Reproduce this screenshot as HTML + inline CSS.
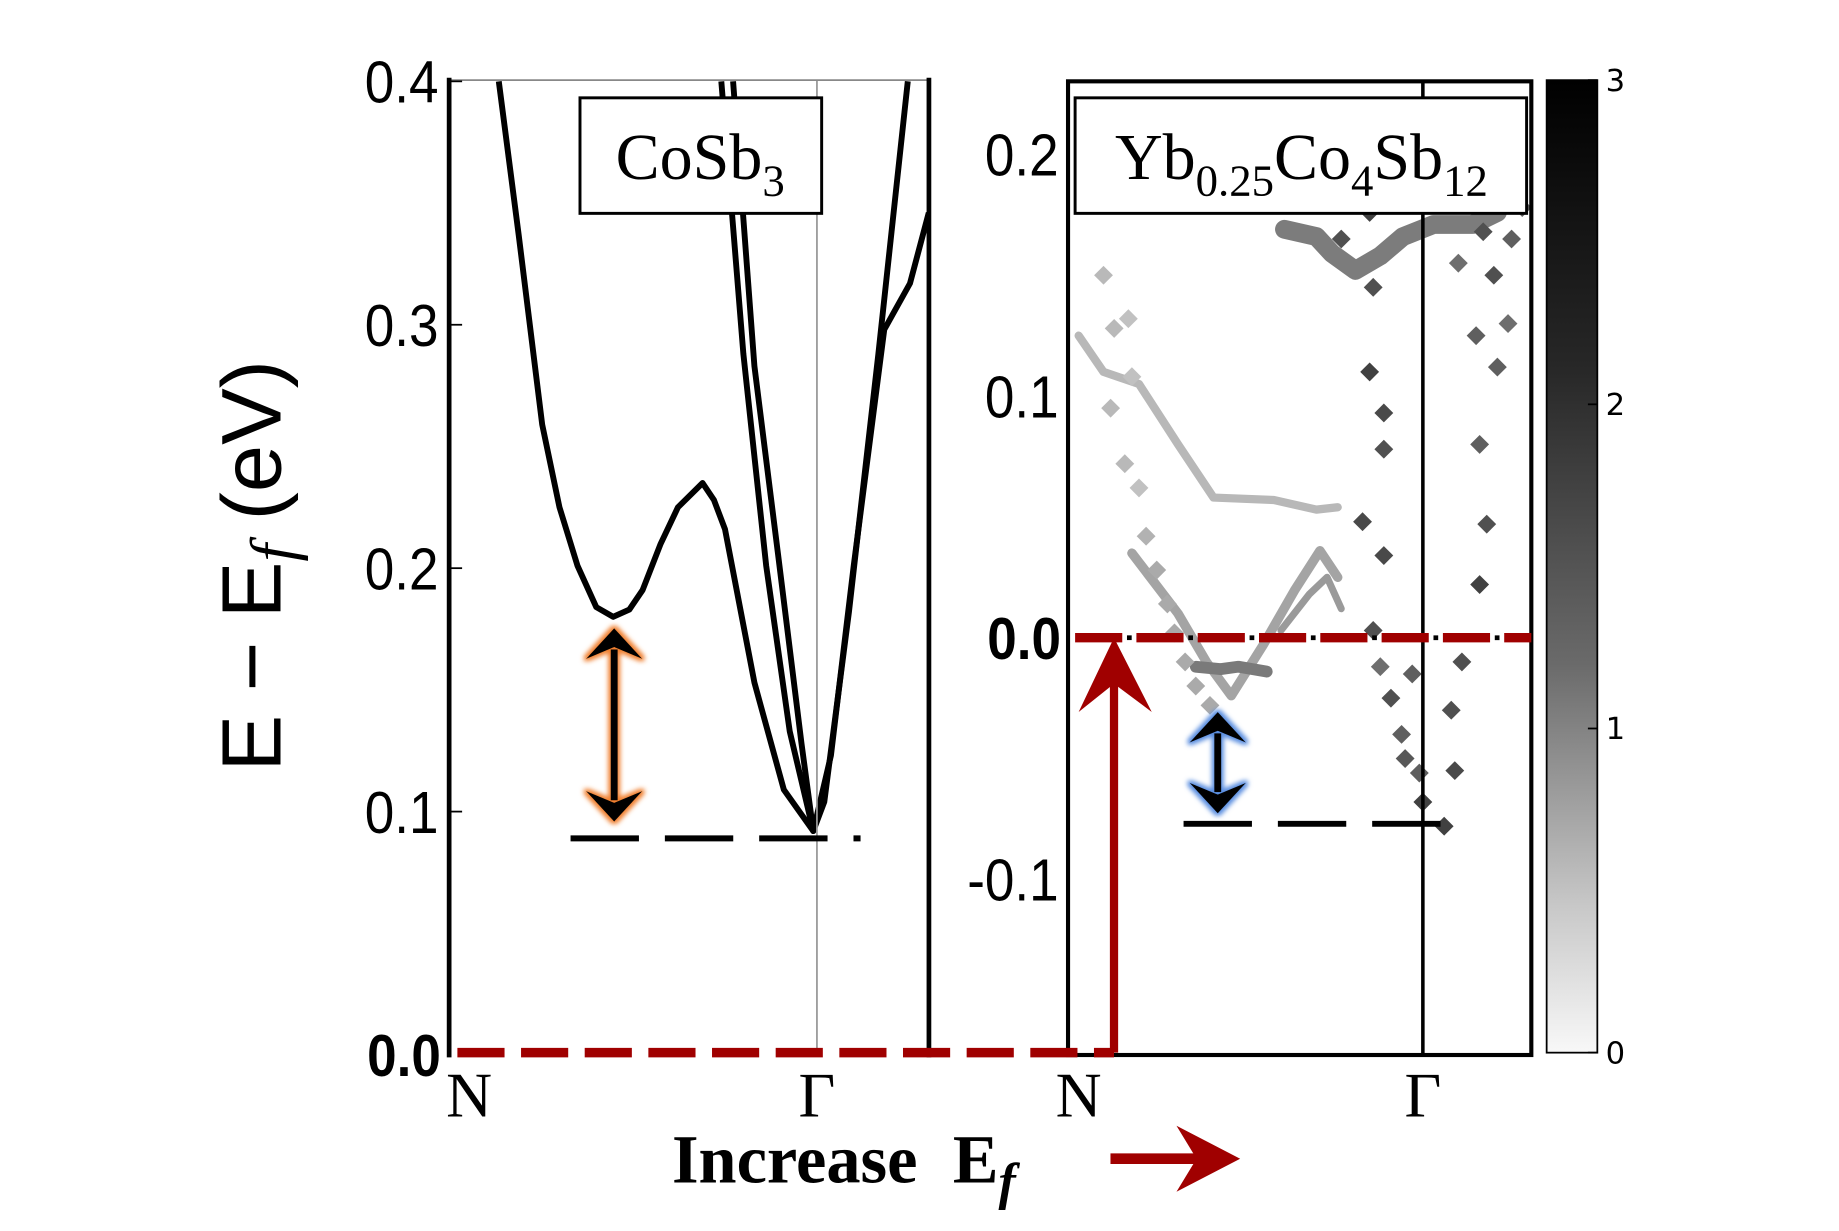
<!DOCTYPE html>
<html><head><meta charset="utf-8"><style>
html,body{margin:0;padding:0;background:#fff;}
svg{display:block;}
</style></head><body>
<svg id="fig" width="1839" height="1231" viewBox="0 0 1560 1044.3" preserveAspectRatio="none" xmlns="http://www.w3.org/2000/svg">
<defs>
<linearGradient id="cbg" x1="0" y1="1" x2="0" y2="0">
<stop offset="0" stop-color="#f8f8f8"/><stop offset="0.15" stop-color="#c8c8c8"/><stop offset="0.4" stop-color="#6a6a6a"/><stop offset="0.7" stop-color="#282828"/><stop offset="1" stop-color="#000"/>
</linearGradient>
<filter id="glowO" x="-50%" y="-50%" width="200%" height="200%"><feMorphology operator="dilate" radius="2" in="SourceAlpha" result="d"/><feGaussianBlur in="d" stdDeviation="2" result="b"/><feFlood flood-color="#f08030"/><feComposite in2="b" operator="in" result="g"/><feMerge><feMergeNode in="g"/><feMergeNode in="SourceGraphic"/></feMerge></filter>
<filter id="glowB" x="-50%" y="-50%" width="200%" height="200%"><feMorphology operator="dilate" radius="2" in="SourceAlpha" result="d"/><feGaussianBlur in="d" stdDeviation="2" result="b"/><feFlood flood-color="#5a8ee0"/><feComposite in2="b" operator="in" result="g"/><feMerge><feMergeNode in="g"/><feMergeNode in="SourceGraphic"/></feMerge></filter>
</defs>
<g id="heat"></g>
<g id="bands"></g>
<g id="static"></g>
</svg>
<script>
// ---- data ----
const leftTicks = [0.1, 0.2, 0.3, 0.4];
const leftTickLabels = ["0.1", "0.2", "0.3", "0.4"];
const rightTicks = [-0.1, 0.1, 0.2];
const rightTickLabels = ["-0.1", "0.1", "0.2"];
const cbTicks = [0, 1, 2, 3];
const band1K = [0.135,0.189,0.253,0.30,0.349,0.40,0.446,0.49,0.526,0.575,0.622,0.689,0.72,0.75,0.83,0.91,0.99,1.02,1.087,1.167,1.247];
const band1E = [0.40,0.337,0.259,0.225,0.201,0.184,0.180,0.183,0.191,0.210,0.225,0.235,0.228,0.216,0.153,0.109,0.092,0.104,0.182,0.288,0.40];
const band2K = [0.74,0.80,0.862,0.926,0.99,1.038,1.10,1.183,1.253,1.304];
const band2E = [0.40,0.288,0.201,0.133,0.092,0.123,0.201,0.298,0.317,0.346];
const band3K = [0.772,0.83,0.894,0.958,0.99];
const band3E = [0.40,0.283,0.206,0.128,0.092];
const cbmLeft = 0.089;
const cbmRight = -0.077;
const dK = [0.77,0.81,0.85,0.86,0.85,0.89,0.89,0.83,0.89,0.86,0.91,0.94,1.00,1.06,1.09,1.08,1.11,1.16,1.18,1.16,1.21,1.24,1.20,1.17,1.25,1.28,1.23,1.15,1.10,0.88,0.95,0.99,0.97,0.10,0.13,0.17,0.18,0.12,0.16,0.20,0.22,0.25,0.28,0.30,0.33,0.36,0.40];
const dE = [0.165,0.215,0.176,0.145,0.110,0.093,0.078,0.048,0.034,0.003,-0.025,-0.040,-0.068,-0.078,-0.055,-0.030,-0.010,0.022,0.047,0.080,0.112,0.130,0.150,0.168,0.165,0.178,0.190,0.125,0.155,-0.012,-0.050,-0.056,-0.015,0.150,0.128,0.132,0.108,0.095,0.072,0.062,0.042,0.028,0.014,0.002,-0.010,-0.020,-0.028];
const dI = [2.2,2.0,2.4,2.2,2.4,2.3,2.2,2.3,2.3,2.2,2.2,2.0,2.4,2.4,2.3,2.2,2.2,2.4,2.2,2.0,2.0,1.8,2.2,2.2,2.0,2.0,2.0,2.0,1.8,1.8,2.1,2.0,2.0,0.8,0.8,0.7,0.7,0.8,0.8,0.7,0.9,1.0,1.0,1.0,1.0,1.0,1.0];
const s1K = [0.61,0.70,0.744,0.81,0.88,0.944,1.03,1.14,1.21];
const s1E = [0.169,0.166,0.159,0.152,0.158,0.166,0.171,0.171,0.176];
const s2K = [0.03,0.10,0.20,0.31,0.41,0.58,0.70,0.76];
const s2E = [0.125,0.110,0.105,0.080,0.058,0.057,0.053,0.054];
const s3K = [0.18,0.31,0.39,0.46,0.55,0.64,0.71,0.76];
const s3E = [0.035,0.010,-0.010,-0.024,-0.003,0.020,0.036,0.025];
const s4K = [0.60,0.68,0.73,0.77];
const s4E = [0.003,0.018,0.025,0.012];
const s5K = [0.36,0.43,0.48,0.56];
const s5E = [-0.012,-0.013,-0.012,-0.014];

const NS="http://www.w3.org/2000/svg";
function mk(tag,attrs,parent){const e=document.createElementNS(NS,tag);for(const k in attrs)e.setAttribute(k,attrs[k]);parent.appendChild(e);return e;}
const xL=k=>381+312*k, yL=E=>895-2065*E;
const xR=k=>906+301*k, yR=E=>541-2050*E;
const yC=v=>893-275*v;

const svg=document.getElementById('fig');
const st=document.getElementById('static');
const heat=document.getElementById('heat');
const bands=document.getElementById('bands');

function gray(i){const g=Math.round(245-i*75);return `rgb(${g},${g},${g})`;}
function streak(K,E,w,c,name){
  const p=mk('polyline',{points:K.map((k,i)=>xR(k)+','+yR(E[i])).join(' '),fill:'none',stroke:c,'stroke-width':w,'stroke-linejoin':'round','stroke-linecap':'round'},heat);
  
  
}
streak(s1K,s1E,16,'#7c7c7c','streak-top');
streak(s2K,s2E,7,'#b8b8b8','streak-upper');
streak(s3K,s3E,8,'#a4a4a4','streak-v');
streak(s4K,s4E,6,'#9a9a9a','streak-small');
streak(s5K,s5E,10,'#7a7a7a','streak-min');
dK.forEach((k,i)=>{
  const cx=xR(k), cy=yR(dE[i]), r=8;
  const d=mk('polygon',{points:`${cx},${cy-r} ${cx+r},${cy} ${cx},${cy+r} ${cx-r},${cy}`,fill:gray(dI[i])},heat);
  
  
});
const cp=mk('clipPath',{id:'rc'},svg.querySelector('defs'));
mk('rect',{x:906,y:68,width:393,height:827},cp);
heat.setAttribute('clip-path','url(#rc)');

const lc=mk('clipPath',{id:'lc'},svg.querySelector('defs'));
mk('rect',{x:381,y:68,width:407,height:827},lc);
bands.setAttribute('clip-path','url(#lc)');
[[band1K,band1E,'band-1'],[band2K,band2E,'band-2'],[band3K,band3E,'band-3']].forEach(([K,E,n])=>{
  const p=mk('polyline',{points:K.map((k,i)=>xL(k)+','+yL(E[i])).join(' '),fill:'none',stroke:'#000','stroke-width':5,'stroke-linejoin':'round'},bands);
  
  
});

let e;
e=mk('line',{x1:xL(1),y1:68,x2:xL(1),y2:895,stroke:'#999','stroke-width':1.5},st);

e=mk('line',{x1:381,y1:68,x2:788,y2:68,stroke:'#888','stroke-width':1.5},st);

e=mk('line',{x1:381,y1:66,x2:381,y2:897,stroke:'#000','stroke-width':4},st);

e=mk('line',{x1:788,y1:66,x2:788,y2:897,stroke:'#000','stroke-width':4},st);

e=mk('rect',{x:906,y:69,width:393,height:826,fill:'none',stroke:'#000','stroke-width':3.5},st);

e=mk('line',{x1:xR(1),y1:69,x2:xR(1),y2:895,stroke:'#000','stroke-width':3},st);


leftTicks.forEach((v,i)=>{
  e=mk('line',{x1:381,y1:yL(v),x2:392,y2:yL(v),stroke:'#000','stroke-width':1.5},st);
  
  e=mk('text',{x:372,y:yL(v)+18,'text-anchor':'end','font-family':'Liberation Sans, sans-serif','font-size':50,transform:`translate(${372*0.1},0) scale(0.9,1)`},st);
  e.setAttribute('x',372/0.9*0.9/0.9*0.9/0.9*0.9/0.9 && 372/0.9);
  e.setAttribute('transform','scale(0.9,1)');
  e.textContent=leftTickLabels[i];
  
});
e=mk('text',{x:374/0.9,y:yL(0)+18,'text-anchor':'end','font-family':'Liberation Sans, sans-serif','font-size':50,'font-weight':'bold',transform:'scale(0.9,1)'},st);
e.textContent='0.0';
rightTicks.forEach((v,i)=>{
  e=mk('text',{x:898/0.9,y:yR(v)+18,'text-anchor':'end','font-family':'Liberation Sans, sans-serif','font-size':50,transform:'scale(0.9,1)'},st);
  e.textContent=rightTickLabels[i];
  
});
e=mk('text',{x:900/0.9,y:yR(0)+18,'text-anchor':'end','font-family':'Liberation Sans, sans-serif','font-size':50,'font-weight':'bold',transform:'scale(0.9,1)'},st);
e.textContent='0.0';

[[xL(0)+17,'N'],[xL(1),'Γ'],[xR(0)+9,'N'],[xR(1),'Γ']].forEach(([x,t])=>{
  e=mk('text',{x:x,y:947,'text-anchor':'middle','font-family':'Liberation Serif, serif','font-size':54},st);
  e.textContent=t;
});

e=mk('text',{x:0,y:0,transform:'translate(238,480) rotate(-90)','text-anchor':'middle','font-family':'Liberation Sans, sans-serif','font-size':72},st);
e.innerHTML='E − E<tspan font-style="italic" font-family="Liberation Serif, serif" baseline-shift="-22%" font-size="54">f</tspan> (eV)';


e=mk('rect',{x:492,y:83,width:205,height:98,fill:'#fff',stroke:'#000','stroke-width':2.5},st);

e=mk('text',{x:594,y:152,'text-anchor':'middle','font-family':'Liberation Serif, serif','font-size':56},st);
e.innerHTML='CoSb<tspan font-size="38" dy="14">3</tspan>';

e=mk('rect',{x:912,y:83,width:383,height:98,fill:'#fff',stroke:'#000','stroke-width':2.5},st);

e=mk('text',{x:1104,y:152,'text-anchor':'middle','font-family':'Liberation Serif, serif','font-size':56},st);
e.innerHTML='Yb<tspan font-size="38" dy="14">0.25</tspan><tspan dy="-14">Co</tspan><tspan font-size="38" dy="14">4</tspan><tspan dy="-14">Sb</tspan><tspan font-size="38" dy="14">12</tspan>';


e=mk('line',{x1:484,y1:yL(cbmLeft),x2:730,y2:yL(cbmLeft),stroke:'#000','stroke-width':5,'stroke-dasharray':'58 22'},st);

e=mk('line',{x1:1004,y1:yR(cbmRight),x2:1222,y2:yR(cbmRight),stroke:'#000','stroke-width':5,'stroke-dasharray':'58 22'},st);


function dbl(x,y1,y2,filt,name){
  const g=mk('g',{filter:filt},st);
  
  mk('line',{x1:x,y1:y1+18,x2:x,y2:y2-18,stroke:'#000','stroke-width':6},g);
  mk('polygon',{points:`${x},${y1} ${x+24},${y1+26} ${x},${y1+16} ${x-24},${y1+26}`,fill:'#000'},g);
  mk('polygon',{points:`${x},${y2} ${x+24},${y2-26} ${x},${y2-16} ${x-24},${y2-26}`,fill:'#000'},g);
}
dbl(521,533,697,'url(#glowO)','gap-arrow-cosb3');
dbl(1033,604,690,'url(#glowB)','gap-arrow-yb');

e=mk('line',{x1:388,y1:893,x2:945,y2:893,stroke:'#a00000','stroke-width':8,'stroke-dasharray':'40 14'},st);

e=mk('polyline',{points:'945,893 945,575',fill:'none',stroke:'#a00000','stroke-width':7},st);

e=mk('polygon',{points:'945,541 977,604 945,580 915,604',fill:'#a00000'},st);

e=mk('line',{x1:908,y1:yR(0),x2:1299,y2:yR(0),stroke:'#000','stroke-width':4,'stroke-dasharray':'4 48','stroke-dashoffset':'-48'},st);

e=mk('line',{x1:912,y1:yR(0),x2:1299,y2:yR(0),stroke:'#a00000','stroke-width':8,'stroke-dasharray':'40 12'},st);


e=mk('rect',{x:1312,y:68,width:43,height:825,fill:'url(#cbg)',stroke:'#000','stroke-width':1.5},st);

cbTicks.forEach(v=>{
  e=mk('line',{x1:1347,y1:yC(v),x2:1355,y2:yC(v),stroke:'#000','stroke-width':1.5},st);
  
  e=mk('text',{x:1362,y:yC(v)+9,'font-family':'DejaVu Sans, sans-serif','font-size':26},st);
  e.textContent=String(v);
  
});

e=mk('text',{x:570,y:1003,'font-family':'Liberation Serif, serif','font-size':58,'font-weight':'bold'},st);
e.innerHTML='Increase<tspan dx="30">E</tspan><tspan font-style="italic" font-size="44" dy="14">f</tspan>';

e=mk('line',{x1:942,y1:983,x2:1020,y2:983,stroke:'#a00000','stroke-width':9},st);

e=mk('polygon',{points:'1052,983 998,955 1015,983 998,1011',fill:'#a00000'},st);

</script>
</body></html>
